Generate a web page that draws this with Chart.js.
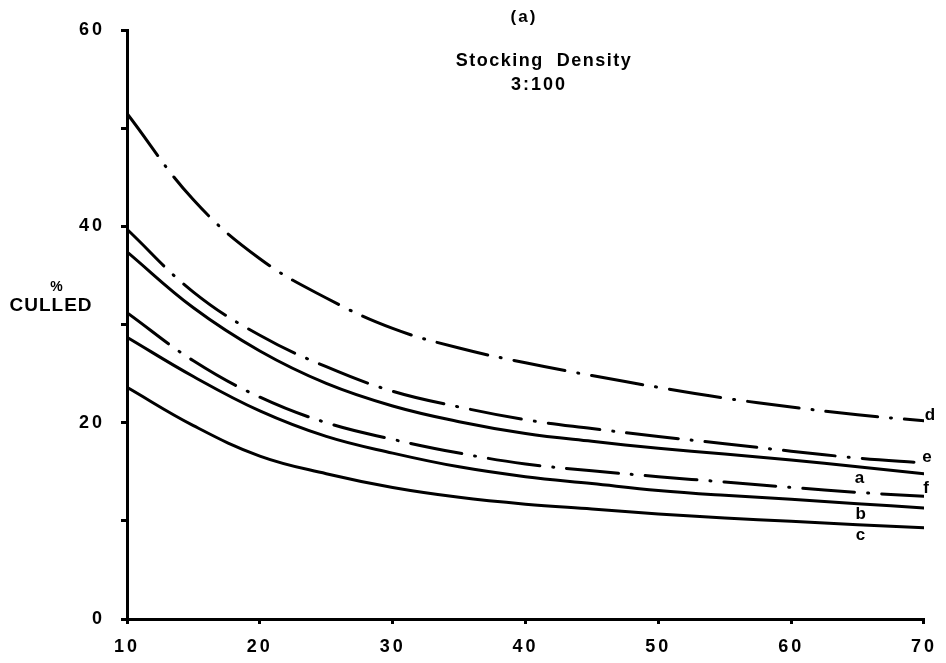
<!DOCTYPE html>
<html>
<head>
<meta charset="utf-8">
<script src="https://cdn.jsdelivr.net/npm/chart.js@4/dist/chart.umd.min.js"></script>
<style>
  body { margin: 0; background: #fff; }
  canvas { display: block; }
</style>
</head>
<body>
<canvas id="chart" width="946" height="663"></canvas>
<script>
const inkColor = "#000000";
const fontFamily = "'Liberation Sans', Arial, sans-serif";

// x values (days) shared by every curve
const xValues = [10, 15, 20, 25, 30, 35, 40, 45, 50, 55, 60, 65, 70];

// % culled for each curve
const curveA = [37.4, 31.7, 27.3, 24.0, 21.7, 20.1, 18.9, 18.1, 17.4, 16.8, 16.2, 15.5, 14.8];
const curveB = [28.7, 24.7, 21.2, 18.6, 16.9, 15.5, 14.5, 13.8, 13.1, 12.6, 12.2, 11.75, 11.3];
const curveC = [23.6, 19.7, 16.6, 14.8, 13.4, 12.4, 11.7, 11.2, 10.7, 10.3, 9.95, 9.6, 9.3];
const curveD = [51.5, 42.7, 36.7, 32.7, 29.6, 27.6, 26.1, 24.8, 23.6, 22.5, 21.6, 20.8, 20.2];
const curveE = [39.7, 33.3, 28.9, 25.7, 23.2, 21.6, 20.3, 19.4, 18.6, 17.85, 17.1, 16.4, 15.9];
const curveF = [31.2, 26.3, 22.6, 20.0, 18.3, 16.9, 15.8, 15.1, 14.5, 13.95, 13.4, 12.9, 12.5];

const yTickLabels = [0, 20, 40, 60];
const xTickLabels = [10, 20, 30, 40, 50, 60, 70];

const dashDot = [52, 13, 1, 13];

function points(values) {
    return values.map((y, i) => ({ x: xValues[i], y: y }));
}

function curve(name, values, dashed) {
    return {
        label: name,
        data: points(values),
        borderColor: inkColor,
        borderWidth: 3,
        borderDash: dashed ? dashDot : [],
        borderCapStyle: "round",
        pointRadius: 0,
        tension: 0.4
    };
}

const series = [
    curve("d", curveD, true),
    curve("e", curveE, true),
    curve("a", curveA, false),
    curve("f", curveF, true),
    curve("b", curveB, false),
    curve("c", curveC, false)
];

// letter placement: which x to attach to, and pixel offsets
const letterSpots = {
    d: { at: 70, dx: 6, dy: -5 },
    e: { at: 70, dx: 3, dy: -6 },
    a: { at: 65, dx: 2, dy: 11 },
    f: { at: 70, dx: 2, dy: -8 },
    b: { at: 65, dx: 3, dy: 11 },
    c: { at: 65, dx: 3, dy: 11 }
};

const annotations = {
    id: "annotations",
    beforeDraw(chart) {
        // the old lettering is widely spaced
        chart.ctx.letterSpacing = "3px";
    },
    afterDraw(chart) {
        const ctx = chart.ctx;
        const xs = chart.scales.x;
        const ys = chart.scales.y;
        ctx.save();
        ctx.fillStyle = inkColor;
        ctx.textAlign = "center";
        ctx.textBaseline = "middle";

        ctx.letterSpacing = "2px";
        ctx.font = `bold 17px ${fontFamily}`;
        ctx.fillText("(a)", 524, 17);
        ctx.letterSpacing = "1.5px";
        ctx.font = `bold 18px ${fontFamily}`;
        ctx.fillText("Stocking  Density", 544, 61);
        ctx.letterSpacing = "2px";
        ctx.fillText("3:100", 539, 85);

        ctx.letterSpacing = "1px";
        ctx.font = `bold 14px ${fontFamily}`;
        ctx.fillText("%", 57, 287);
        ctx.font = `bold 19px ${fontFamily}`;
        ctx.fillText("CULLED", 51, 306);

        ctx.letterSpacing = "0px";
        ctx.font = `bold 17px ${fontFamily}`;
        series.forEach(ds => {
            const spot = letterSpots[ds.label];
            const i = xValues.indexOf(spot.at);
            const px = xs.getPixelForValue(spot.at) + spot.dx;
            const py = ys.getPixelForValue(ds.data[i].y) + spot.dy;
            ctx.fillText(ds.label, px, py);
        });
        ctx.restore();
    }
};

const config = {
    type: "line",
    data: { datasets: series },
    options: {
        responsive: false,
        animation: false,
        events: [],
        layout: {
            padding: { top: 30, right: 19, left: 0, bottom: 0 }
        },
        plugins: {
            legend: { display: false },
            title: { display: false },
            tooltip: { enabled: false }
        },
        scales: {
            x: {
                type: "linear",
                min: 10,
                max: 70,
                afterFit: s => { s.height = 44; },
                afterBuildTicks: s => {
                    s.ticks = xTickLabels.map(v => ({ value: v }));
                },
                border: { display: true, color: inkColor, width: 3 },
                grid: {
                    drawOnChartArea: false,
                    drawTicks: true,
                    tickLength: 5,
                    color: inkColor,
                    lineWidth: 3
                },
                ticks: {
                    color: inkColor,
                    padding: 12,
                    maxRotation: 0,
                    font: { family: fontFamily, size: 18, weight: "bold" }
                }
            },
            y: {
                type: "linear",
                min: 0,
                max: 60,
                afterFit: s => { s.width = 127; },
                afterBuildTicks: s => {
                    const ticks = [];
                    for (let v = 0; v <= 60; v += 10) ticks.push({ value: v });
                    s.ticks = ticks;
                },
                border: { display: true, color: inkColor, width: 3 },
                grid: {
                    drawOnChartArea: false,
                    drawTicks: true,
                    tickLength: 6,
                    color: inkColor,
                    lineWidth: 3
                },
                ticks: {
                    color: inkColor,
                    padding: 16,
                    callback: v => yTickLabels.includes(v) ? String(v) : "",
                    font: { family: fontFamily, size: 18, weight: "bold" }
                }
            }
        }
    },
    plugins: [annotations]
};

new Chart(document.getElementById("chart"), config);
</script>
</body>
</html>
